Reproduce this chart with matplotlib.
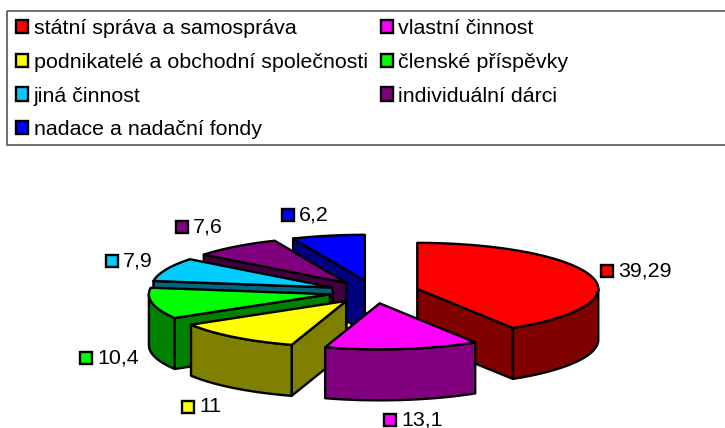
import numpy as np
import matplotlib
matplotlib.use("Agg")
import matplotlib.pyplot as plt
from matplotlib.patches import Polygon, Rectangle, Patch

plt.rcParams['font.family'] = ['Liberation Sans', 'DejaVu Sans']

categories = ["státní správa a samospráva", "vlastní činnost",
              "podnikatelé a obchodní společnosti", "členské příspěvky",
              "jiná činnost", "individuální dárci", "nadace a nadační fondy"]
values = [39.29, 13.1, 11, 10.4, 7.9, 7.6, 6.2]
value_labels = ["39,29", "13,1", "11", "10,4", "7,9", "7,6", "6,2"]
top_colors = ["#FF0000", "#FF00FF", "#FFFF00", "#00FF00", "#00CCFF", "#800080", "#0000FF"]
side_colors = ["#800000", "#800080", "#808000", "#008000", "#006680", "#400040", "#000080"]

# layout, in pixels
CX, CY, RX, RY, DEPTH, EXPLODE = 374, 292, 181, 46, 51, 45
LABEL_POS = [(607, 271), (390, 420), (188, 407), (86, 358), (112, 261), (182, 227), (288, 215)]
DRAW_ORDER = [6, 5, 4, 3, 2, 0, 1]
LW = 1.7

fig = plt.figure(figsize=(7.25, 4.28), dpi=100)
ax = fig.add_axes([0, 0, 1, 1])
ax.set_xlim(0, 725)
ax.set_ylim(428, 0)
ax.axis("off")


def pt(theta, apex):
    return apex[0] + RX * np.sin(theta), apex[1] - RY * np.cos(theta)


total = sum(values)
edges = np.concatenate([[0], np.cumsum(values)]) / total * 2 * np.pi

for i in DRAW_ORDER:
    a0, a1 = edges[i], edges[i + 1]
    mid = (a0 + a1) / 2
    apex = (CX + EXPLODE * np.sin(mid), CY - EXPLODE * RY / RX * np.cos(mid))
    kw = dict(edgecolor="black", linewidth=LW, joinstyle="round")
    for ang, visible in ((a0, np.sin(a0) < -1e-6), (a1, np.sin(a1) > 1e-6)):
        if visible:
            e = pt(ang, apex)
            ax.add_patch(Polygon([apex, e, (e[0], e[1] + DEPTH), (apex[0], apex[1] + DEPTH)],
                                 facecolor=side_colors[i], **kw))
    lo, hi = max(a0, np.pi / 2), min(a1, 3 * np.pi / 2)
    if hi > lo:
        t = np.linspace(lo, hi, 80)
        xs, ys = pt(t, apex)
        verts = list(zip(xs, ys)) + list(zip(xs[::-1], ys[::-1] + DEPTH))
        ax.add_patch(Polygon(verts, facecolor=side_colors[i], **kw))
    t = np.linspace(a0, a1, 120)
    xs, ys = pt(t, apex)
    ax.add_patch(Polygon([apex] + list(zip(xs, ys)), facecolor=top_colors[i], **kw))

for (x, y), lab, col in zip(LABEL_POS, value_labels, top_colors):
    ax.add_patch(Rectangle((x - 6, y - 6), 12, 12, facecolor=col, edgecolor="black", linewidth=LW))
    ax.text(x + 11, y, lab, fontsize=15.4, va="center", ha="left", color="black")

ax.add_patch(Rectangle((7.5, 10.5), 730, 134.5, facecolor="none", edgecolor="#555555", linewidth=1.2))
handles = [Patch(facecolor=c, edgecolor="black", linewidth=LW) for c in top_colors]
order = [0, 2, 4, 6, 1, 3, 5]
ax.legend([handles[i] for i in order], [categories[i] for i in order], ncols=2,
          loc="upper left", bbox_to_anchor=(16 / 725, 1 - 19 / 428), frameon=False,
          fontsize=15.4, handlelength=0.58, handleheight=0.58, handletextpad=0.24,
          labelspacing=0.69, columnspacing=0.62, borderpad=0, borderaxespad=0)

fig.savefig("out.png", dpi=100)
